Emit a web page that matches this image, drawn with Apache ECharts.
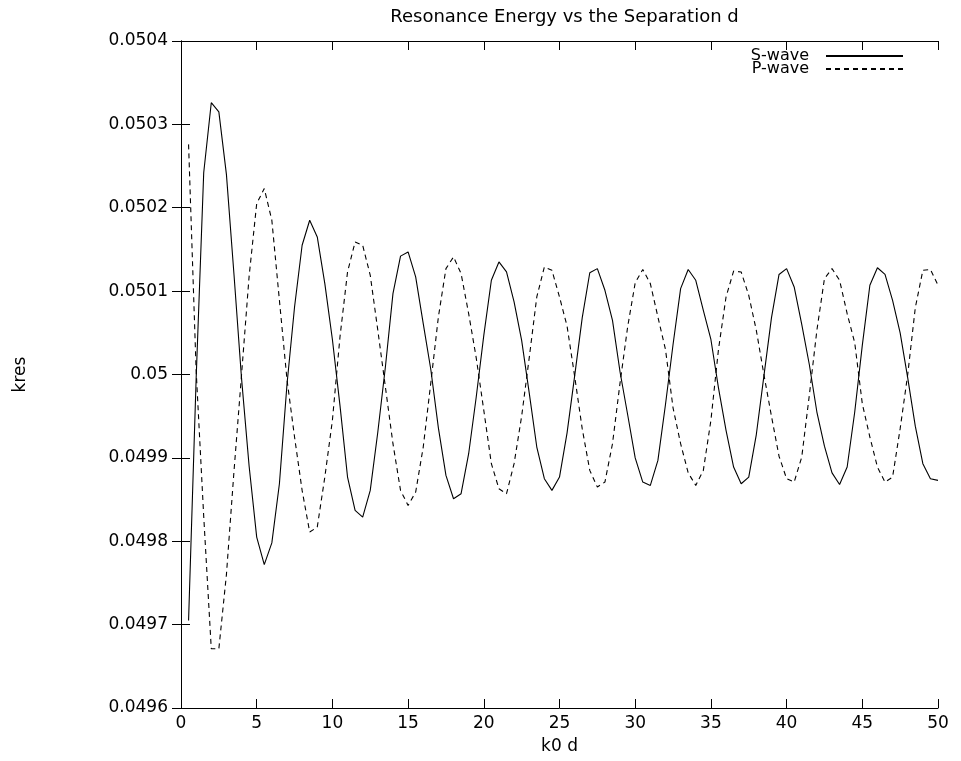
<!DOCTYPE html>
<html><head><meta charset="utf-8">
<script src="https://cdn.jsdelivr.net/npm/echarts@6/dist/echarts.min.js"></script>
<style>html,body{margin:0;padding:0;background:#fff}#c{width:961px;height:761px}</style>
</head><body><div id="c"></div>
<script>
const dValues = [0.5,1,1.5,2,2.5,3,3.5,4,4.5,5,5.5,6,6.5,7,7.5,8,8.5,9,9.5,10,
10.5,11,11.5,12,12.5,13,13.5,14,14.5,15,15.5,16,16.5,17,17.5,18,18.5,19,19.5,20,
20.5,21,21.5,22,22.5,23,23.5,24,24.5,25,25.5,26,26.5,27,27.5,28,28.5,29,29.5,30,
30.5,31,31.5,32,32.5,33,33.5,34,34.5,35,35.5,36,36.5,37,37.5,38,38.5,39,39.5,40,
40.5,41,41.5,42,42.5,43,43.5,44,44.5,45,45.5,46,46.5,47,47.5,48,48.5,49,49.5,50];

const sWave = [0.049705,0.049995,0.050242,0.050326,0.050315,0.050240,0.050120,0.049995,0.049890,0.049805,
0.049772,0.049798,0.049869,0.049988,0.050081,0.050155,0.050185,0.050165,0.050109,0.050042,
0.049963,0.049877,0.049837,0.049829,0.049861,0.049931,0.050009,0.050097,0.050142,0.050147,
0.050117,0.050061,0.050006,0.049936,0.049879,0.049851,0.049857,0.049905,0.049973,0.050047,
0.050113,0.050135,0.050123,0.050087,0.050041,0.049978,0.049913,0.049875,0.049861,0.049877,
0.049930,0.049998,0.050068,0.050122,0.050127,0.050101,0.050065,0.050003,0.049952,0.049900,
0.049871,0.049867,0.049897,0.049964,0.050036,0.050103,0.050126,0.050113,0.050077,0.050042,
0.049984,0.049933,0.049889,0.049869,0.049877,0.049928,0.049998,0.050068,0.050120,0.050127,
0.050105,0.050060,0.050012,0.049955,0.049914,0.049882,0.049868,0.049889,0.049955,0.050035,
0.050107,0.050128,0.050120,0.050089,0.050050,0.049996,0.049938,0.049893,0.049875,0.049873];

const pWave = [0.050276,0.050005,0.049830,0.049671,0.049671,0.049760,0.049884,0.050000,0.050118,0.050205,
0.050223,0.050185,0.050089,0.049994,0.049925,0.049861,0.049811,0.049817,0.049877,0.049945,
0.050045,0.050123,0.050159,0.050155,0.050119,0.050053,0.049985,0.049917,0.049861,0.049843,
0.049859,0.049913,0.049990,0.050069,0.050127,0.050141,0.050121,0.050073,0.050020,0.049957,
0.049893,0.049863,0.049857,0.049893,0.049950,0.050020,0.050093,0.050129,0.050125,0.050093,
0.050058,0.049998,0.049935,0.049885,0.049865,0.049871,0.049917,0.049990,0.050057,0.050110,
0.050126,0.050109,0.050069,0.050030,0.049960,0.049917,0.049882,0.049867,0.049885,0.049945,
0.050030,0.050093,0.050124,0.050123,0.050095,0.050053,0.050000,0.049950,0.049902,0.049875,
0.049871,0.049901,0.049975,0.050053,0.050115,0.050127,0.050113,0.050073,0.050038,0.049965,
0.049925,0.049889,0.049871,0.049877,0.049935,0.050000,0.050080,0.050125,0.050126,0.050107];

const seriesNames = ['S-wave', 'P-wave'];
const titleText = 'Resonance Energy vs the Separation d';
const xName = 'k0 d';
const yName = 'kres';

const FONT = 'DejaVu Sans';
const FS = 17;
const chart = echarts.init(document.getElementById('c'), null, {renderer: 'canvas'});

function yFmt(v) { return String(parseFloat(Number(v).toFixed(4))); }

const tickStyle = {inside: true, length: 9, lineStyle: {color: '#000', width: 1}};
const lineStyleAxis = {lineStyle: {color: '#000', width: 1}};

const option = {
  animation: false,
  backgroundColor: '#fff',
  title: {
    text: titleText, left: 559.5, top: 3, textAlign: 'center',
    textStyle: {fontFamily: FONT, fontSize: 18, fontWeight: 'normal', color: '#000'}
  },
  legend: {
    data: seriesNames, orient: 'vertical', right: 52, top: 43, align: 'right',
    itemWidth: 77, itemHeight: 10, itemGap: -3,
    itemStyle: {color: 'rgba(0,0,0,0)', borderColor: 'rgba(0,0,0,0)', borderWidth: 0, opacity: 0},
    textStyle: {fontFamily: FONT, fontSize: 16, color: '#000', padding: [0, 12, 0, 0], lineHeight: 13}
  },
  grid: {left: 181, right: 23, top: 41, bottom: 53},
  xAxis: [
    {type: 'value', min: 0, max: 50, interval: 5, position: 'bottom',
     axisLine: lineStyleAxis, axisTick: tickStyle, splitLine: {show: false},
     axisLabel: {color: '#000', fontFamily: FONT, fontSize: FS, margin: 7},
     name: xName, nameLocation: 'middle', nameGap: 30,
     nameTextStyle: {color: '#000', fontFamily: FONT, fontSize: FS}},
    {type: 'value', min: 0, max: 50, interval: 5, position: 'top',
     axisLine: lineStyleAxis, axisTick: tickStyle, splitLine: {show: false},
     axisLabel: {show: false}}
  ],
  yAxis: [
    {type: 'value', min: 0.0496, max: 0.0504, interval: 0.0001, position: 'left',
     axisLine: {show: true, lineStyle: {color: '#000', width: 1}}, axisTick: {show: true, inside: true, length: 9, lineStyle: {color: '#000'}},
     splitLine: {show: false},
     axisLabel: {color: '#000', fontFamily: FONT, fontSize: FS, margin: 13, formatter: yFmt},
     name: yName, nameLocation: 'middle', nameGap: 152, nameRotate: 90,
     nameTextStyle: {color: '#000', fontFamily: FONT, fontSize: FS}},
    {type: 'value', min: 0.0496, max: 0.0504, interval: 0.0001, position: 'right',
     axisLine: {show: true, lineStyle: {color: '#000', width: 1}}, axisTick: {show: true, inside: true, length: 9, lineStyle: {color: '#000'}},
     splitLine: {show: false}, axisLabel: {show: false}}
  ],
  series: [
    {name: seriesNames[0], type: 'line', showSymbol: false, symbol: 'none',
     data: dValues.map((d, i) => [d, sWave[i]]),
     lineStyle: {color: '#000', width: 1.1, type: 'solid'}, itemStyle: {color: '#000'}},
    {name: seriesNames[1], type: 'line', showSymbol: false, symbol: 'none',
     data: dValues.map((d, i) => [d, pWave[i]]),
     lineStyle: {color: '#000', width: 1.1, type: [5, 4]}, itemStyle: {color: '#000'}}
  ]
};
chart.setOption(option);
</script>
</body></html>
